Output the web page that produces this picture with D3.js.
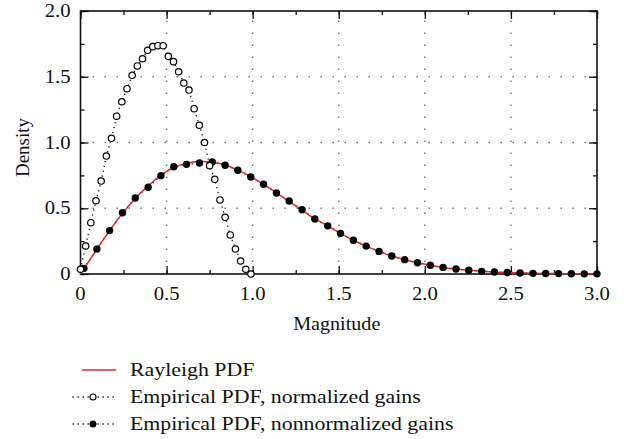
<!DOCTYPE html>
<html>
<head>
<meta charset="utf-8">
<script src="https://cdn.jsdelivr.net/npm/d3@7"></script>
<style>
  html, body { margin: 0; padding: 0; background: #fff; }
  svg { display: block; font-family: "Liberation Serif", "Times New Roman", serif; }
</style>
</head>
<body>
<svg id="chart" width="626" height="439"></svg>
<script>
// ---- data ----
const xTicks = [0, 0.5, 1.0, 1.5, 2.0, 2.5, 3.0];
const xTickLabels = ["0", "0.5", "1.0", "1.5", "2.0", "2.5", "3.0"];
const yTicks = [0, 0.5, 1.0, 1.5, 2.0];
const yTickLabels = ["0", "0.5", "1.0", "1.5", "2.0"];

const seriesNames = ["Rayleigh PDF", "Empirical PDF, normalized gains", "Empirical PDF, nonnormalized gains"];

// Empirical PDF, normalized gains (open circles)
const normX = [0, 0.03, 0.06, 0.09, 0.12, 0.15, 0.18, 0.21, 0.24, 0.27, 0.30, 0.33, 0.36, 0.39, 0.42, 0.45, 0.48,
               0.51, 0.54, 0.57, 0.60, 0.63, 0.66, 0.69, 0.72, 0.75, 0.78, 0.81, 0.84, 0.87, 0.90, 0.93, 0.96, 0.99];
const normY = [0.036, 0.213, 0.39, 0.557, 0.707, 0.897, 1.032, 1.20, 1.31, 1.409, 1.511, 1.582, 1.637, 1.701, 1.729, 1.736, 1.736,
               1.655, 1.615, 1.538, 1.452, 1.399, 1.257, 1.131, 1.0, 0.824, 0.72, 0.563, 0.431, 0.297, 0.19, 0.099, 0.036, 0.0];

// Empirical PDF, nonnormalized gains (filled circles)
const nonnormX = [0.02, 0.095, 0.169, 0.244, 0.318, 0.393, 0.467, 0.542, 0.616, 0.691, 0.765, 0.840, 0.914, 0.989,
                  1.063, 1.138, 1.212, 1.287, 1.361, 1.436, 1.510, 1.585, 1.659, 1.734, 1.808, 1.883, 1.957,
                  2.032, 2.106, 2.181, 2.255, 2.330, 2.404, 2.479, 2.553, 2.628, 2.702, 2.777, 2.851, 2.926, 3.0];
const nonnormY = [0.043, 0.19, 0.33, 0.466, 0.578, 0.66, 0.748, 0.816, 0.834, 0.844, 0.852, 0.827, 0.789, 0.738,
                  0.682, 0.616, 0.555, 0.489, 0.418, 0.366, 0.309, 0.257, 0.212, 0.172, 0.137, 0.109, 0.085,
                  0.066, 0.05, 0.038, 0.028, 0.02, 0.015, 0.011, 0.008, 0.005, 0.004, 0.003, 0.002, 0.001, 0.001];

// Rayleigh PDF (red line)
const rayleighX = [0, 0.02, 0.095, 0.169, 0.244, 0.318, 0.393, 0.467, 0.542, 0.616, 0.691, 0.765, 0.840, 0.914, 0.989,
                   1.063, 1.138, 1.212, 1.287, 1.361, 1.436, 1.510, 1.585, 1.659, 1.734, 1.808, 1.883, 1.957,
                   2.032, 2.106, 2.181, 2.255, 2.330, 2.404, 2.479, 2.553, 2.628, 2.702, 2.777, 2.851, 2.926, 3.0];
const rayleighY = [0, 0.04, 0.188, 0.33, 0.461, 0.575, 0.67, 0.752, 0.81, 0.843, 0.856, 0.851, 0.829, 0.79, 0.74,
                   0.681, 0.617, 0.553, 0.485, 0.42, 0.366, 0.309, 0.257, 0.212, 0.172, 0.137, 0.109, 0.085,
                   0.066, 0.05, 0.038, 0.028, 0.021, 0.015, 0.011, 0.008, 0.005, 0.004, 0.003, 0.002, 0.001, 0.001];

// ---- layout ----
const svg = d3.select("#chart");
const pLeft = 80.5, pRight = 597, pTop = 11, pBottom = 274;
const x = d3.scaleLinear().domain([0, 3]).range([pLeft, pRight]);
const y = d3.scaleLinear().domain([0, 2]).range([pBottom, pTop]);
const red = "#e3282a";
const textStretch = 1.15;

const zip = (xs, ys) => xs.map((v, i) => ({x: v, y: ys[i]}));
const normData = zip(normX, normY);
const nonnormData = zip(nonnormX, nonnormY);
const rayData = zip(rayleighX, rayleighY);

// grid (dotted)
const grid = svg.append("g");
xTicks.filter(t => t > 0 && t < 3).forEach(t => {
  grid.append("line").attr("x1", x(t)).attr("x2", x(t)).attr("y1", pBottom).attr("y2", pTop)
    .attr("stroke", "#777").attr("stroke-width", 1.5).attr("stroke-dasharray", "1.5,10.5");
});
yTicks.filter(t => t > 0 && t < 2).forEach(t => {
  grid.append("line").attr("x1", pLeft).attr("x2", pRight).attr("y1", y(t)).attr("y2", y(t))
    .attr("stroke", "#777").attr("stroke-width", 1.5).attr("stroke-dasharray", "1.5,10.5");
});

// axes with inward ticks (minor every 0.25, major every 0.5)
const minorX = d3.range(0, 3.001, 0.25);
const minorY = d3.range(0, 2.001, 0.25);
const axes = [
  [d3.axisBottom(x).tickValues(minorX).tickSize(-4), `translate(0,${pBottom})`],
  [d3.axisTop(x).tickValues(minorX).tickSize(-4), `translate(0,${pTop})`],
  [d3.axisLeft(y).tickValues(minorY).tickSize(-4), `translate(${pLeft},0)`],
  [d3.axisRight(y).tickValues(minorY).tickSize(-4), `translate(${pRight},0)`],
  [d3.axisBottom(x).tickValues(xTicks).tickSize(-8), `translate(0,${pBottom})`],
  [d3.axisTop(x).tickValues(xTicks).tickSize(-8), `translate(0,${pTop})`],
  [d3.axisLeft(y).tickValues(yTicks).tickSize(-8), `translate(${pLeft},0)`],
  [d3.axisRight(y).tickValues(yTicks).tickSize(-8), `translate(${pRight},0)`]
];
axes.forEach(([a, t]) => {
  const g = svg.append("g").attr("transform", t).call(a.tickFormat(""));
  g.select(".domain").remove();
  g.selectAll("line").attr("stroke", "#111").attr("stroke-width", 1.3);
  g.selectAll("text").remove();
});
// frame
svg.append("rect").attr("x", pLeft).attr("y", pTop).attr("width", pRight - pLeft).attr("height", pBottom - pTop)
  .attr("fill", "none").attr("stroke", "#111").attr("stroke-width", 1.6);

// tick labels (horizontally stretched to match the wide serif face of the reference)
svg.append("g").selectAll("text").data(xTicks).join("text")
  .attr("transform", d => `translate(${x(d)},300) scale(${textStretch},1)`).attr("text-anchor", "middle")
  .attr("font-size", 18).attr("fill", "#111").text((d, i) => xTickLabels[i]);
svg.append("g").selectAll("text").data(yTicks).join("text")
  .attr("transform", d => `translate(70.5,${y(d) + 6}) scale(${textStretch},1)`).attr("text-anchor", "end")
  .attr("font-size", 18).attr("fill", "#111").text((d, i) => yTickLabels[i]);

// axis titles
svg.append("text").attr("transform", `translate(${(pLeft + pRight) / 2 - 2},330) scale(1.06,1)`).attr("text-anchor", "middle")
  .attr("font-size", 19).attr("fill", "#111").text("Magnitude");
svg.append("text").attr("transform", `translate(29,${(pTop + pBottom) / 2 + 5}) rotate(-90)`).attr("text-anchor", "middle")
  .attr("font-size", 19).attr("fill", "#111").text("Density");

// lines
const lineGen = d3.line().x(d => x(d.x)).y(d => y(d.y));
const dotPattern = "1.3,3.7";
svg.append("path").datum(nonnormData).attr("d", lineGen).attr("fill", "none")
  .attr("stroke", "#111").attr("stroke-width", 1.3).attr("stroke-dasharray", dotPattern);
svg.append("path").datum(rayData).attr("d", d3.line().x(d => x(d.x)).y(d => y(d.y)).curve(d3.curveCatmullRom))
  .attr("fill", "none").attr("stroke", red).attr("stroke-width", 1.5);
svg.append("path").datum(normData).attr("d", lineGen).attr("fill", "none")
  .attr("stroke", "#111").attr("stroke-width", 1.3).attr("stroke-dasharray", dotPattern);

// markers
svg.append("g").selectAll("circle").data(nonnormData).join("circle")
  .attr("cx", d => x(d.x)).attr("cy", d => y(d.y)).attr("r", 3.7).attr("fill", "#000");
svg.append("g").selectAll("circle").data(normData).join("circle")
  .attr("cx", d => x(d.x)).attr("cy", d => y(d.y)).attr("r", 3.2)
  .attr("fill", "#fff").attr("stroke", "#000").attr("stroke-width", 1.2);

// legend
const legRows = [370, 397, 424];
const lg = svg.append("g");
lg.append("line").attr("x1", 82).attr("x2", 116).attr("y1", legRows[0]).attr("y2", legRows[0])
  .attr("stroke", red).attr("stroke-width", 1.5);
[1, 2].forEach(i => {
  lg.append("line").attr("x1", 72.5).attr("x2", 115).attr("y1", legRows[i]).attr("y2", legRows[i])
    .attr("stroke", "#111").attr("stroke-width", 1.3).attr("stroke-dasharray", "1.3,3.7");
});
lg.append("circle").attr("cx", 93).attr("cy", legRows[1]).attr("r", 3).attr("fill", "#fff")
  .attr("stroke", "#000").attr("stroke-width", 1.2);
lg.append("circle").attr("cx", 93).attr("cy", legRows[2]).attr("r", 3.5).attr("fill", "#000");
lg.selectAll("text").data(seriesNames).join("text")
  .attr("transform", (d, i) => `translate(130,${legRows[i] + 6}) scale(${textStretch},1)`)
  .attr("font-size", 19).attr("fill", "#111").text(d => d);
</script>
</body>
</html>
